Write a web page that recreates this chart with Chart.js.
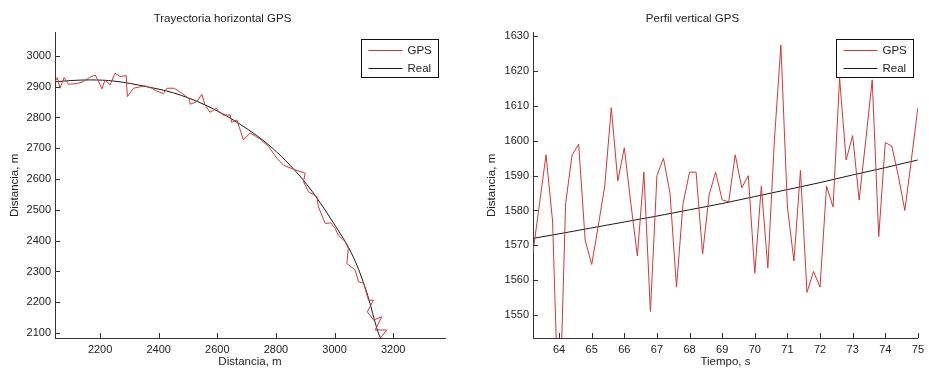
<!DOCTYPE html>
<html><head><meta charset="utf-8">
<script src="https://cdn.jsdelivr.net/npm/chart.js@4/dist/chart.umd.min.js"></script>
<style>
html,body{margin:0;padding:0;background:#fff;}
#wrap{position:relative;width:929px;height:369px;overflow:hidden;background:#fff;}
canvas{position:absolute;top:0;}
</style></head><body>
<div id="wrap">
<canvas id="h" width="465" height="369" style="left:0"></canvas>
<canvas id="v" width="464" height="369" style="left:465px"></canvas>
</div>
<script>
// ---------- Horizontal trajectory ----------
const hTitle = 'Trayectoria horizontal GPS';
const hXLabel = 'Distancia, m';
const hYLabel = 'Distancia, m';
const hGpsX = [2046,2054,2063,2077,2092,2120,2143,2163,2183,2194,2206,2217,2234,2251,2268,2289,2293,2314,2334,2354,2376,2393,2416,2428,2453,2479,2505,2507,2530,2547,2558,2575,2598,2604,2621,2644,2649,2667,2689,2712,2746,2774,2803,2826,2860,2900,2894,2911,2940,2945,2968,2987,3002,3013,3036,3047,3042,3070,3082,3099,3116,3133,3112,3133,3161,3139,3178,3156];
const hGpsY = [2916.5,2929.5,2895,2929.5,2908,2910,2916.5,2929.5,2938,2919,2893,2922,2906,2944,2933,2936,2868,2895,2899,2902.5,2895,2886,2877.5,2895,2895,2879,2860,2843,2851.5,2875.5,2841,2817,2830,2819,2808,2808,2784.5,2792,2727,2750,2730,2707,2668,2645,2632,2619,2592,2559,2543,2510,2456,2458,2440,2418,2397,2375,2326,2305,2267,2262,2207,2207,2169,2142,2153,2110,2110,2083];
const hRealX = [2046,2100,2166,2250,2359,2450,2558,2678,2791,2905,2996,3065,3110,3150,3157];
const hRealY = [2916,2920,2922,2918,2900,2880,2841,2778,2698,2583,2458,2345,2232,2099,2084];
const hXTicks = [2200,2400,2600,2800,3000,3200];
const hYTicks = [2100,2200,2300,2400,2500,2600,2700,2800,2900,3000];

// ---------- Vertical profile ----------
const vTitle = 'Perfil vertical GPS';
const vXLabel = 'Tiempo, s';
const vYLabel = 'Distancia, m';
const vTime = [63.2,63.4,63.6,63.8,64.0,64.2,64.4,64.6,64.8,65.0,65.2,65.4,65.6,65.8,66.0,66.2,66.4,66.6,66.8,67.0,67.2,67.4,67.6,67.8,68.0,68.2,68.4,68.6,68.8,69.0,69.2,69.4,69.6,69.8,70.0,70.2,70.4,70.6,70.8,71.0,71.2,71.4,71.6,71.8,72.0,72.2,72.4,72.6,72.8,73.0,73.2,73.4,73.6,73.8,74.0,74.2,74.4,74.6,74.8,75.0];
const vGps = [1568,1582,1596,1577,1516,1582,1596,1599,1571.5,1564.5,1575.5,1587,1609.5,1588.5,1598,1582,1567,1591,1551,1590,1595,1585,1558,1582,1591,1591,1567.5,1584.5,1591,1583,1582.5,1596,1586.5,1590,1562,1587,1563.5,1600,1627.5,1581,1565.5,1591.5,1556.5,1562.5,1558,1587,1581,1618,1594.5,1601.5,1583,1600,1617.5,1572.5,1599.5,1598.5,1590,1580,1594.5,1609.5];
const vRealTime = [63.2,64,65,66,67,68,69,70,71,72,73,74,75];
const vRealAlt = [1572,1573.3,1575,1576.7,1578.4,1580.2,1582,1584,1586,1588,1590.2,1592.3,1594.5];
const vXTicks = [64,65,66,67,68,69,70,71,72,73,74,75];
const vYTicks = [1550,1560,1570,1580,1590,1600,1610,1620,1630];

const seriesNames = ['GPS','Real'];
const FONT = '"Liberation Sans", Arial, Helvetica, sans-serif';
const TXT = '#222';
const AXIS = '#333';
const GPS_C = '#cc3a3a';
const REAL_C = '#1a1a1a';

const zip = (a, b) => a.map((x, i) => ({x, y: b[i]}));

const inwardTicks = {
  id: 'inwardTicks',
  afterDraw(chart) {
    const {ctx, chartArea: ca, scales: {x, y}} = chart;
    ctx.save();
    ctx.strokeStyle = AXIS; ctx.lineWidth = 1;
    x.ticks.forEach(t => {
      const p = Math.round(x.getPixelForValue(t.value)) + 0.5;
      ctx.beginPath(); ctx.moveTo(p, ca.bottom); ctx.lineTo(p, ca.bottom - 5); ctx.stroke();
    });
    y.ticks.forEach(t => {
      const p = Math.round(y.getPixelForValue(t.value)) + 0.5;
      ctx.beginPath(); ctx.moveTo(ca.left, p); ctx.lineTo(ca.left + 5, p); ctx.stroke();
    });
    ctx.restore();
  }
};

const boxLegend = {
  id: 'boxLegend',
  afterDraw(chart, args, opts) {
    const {ctx, chartArea: ca} = chart;
    const w = opts.width, h = opts.height;
    const left = Math.round(ca.right - opts.right - w) + 0.5;
    const top = Math.round(ca.top + opts.top) + 0.5;
    ctx.save();
    ctx.fillStyle = '#fff'; ctx.fillRect(left, top, w, h);
    ctx.strokeStyle = '#111'; ctx.lineWidth = 1; ctx.strokeRect(left, top, w, h);
    chart.data.datasets.forEach((ds, i) => {
      const yy = Math.round(top + 10 + i * 18) + 0.5;
      ctx.strokeStyle = ds.borderColor; ctx.lineWidth = 1;
      ctx.beginPath(); ctx.moveTo(left + 7, yy); ctx.lineTo(left + 41, yy); ctx.stroke();
      ctx.fillStyle = TXT; ctx.font = '11.5px ' + FONT;
      ctx.textBaseline = 'middle'; ctx.textAlign = 'left';
      ctx.fillText(ds.label, left + 46, yy);
    });
    ctx.restore();
  }
};

function makeChart(id, cfg) {
  return new Chart(document.getElementById(id), {
    type: 'scatter',
    data: {
      datasets: [
        {label: seriesNames[0], data: cfg.gps, showLine: true, borderColor: GPS_C, borderWidth: 1, pointRadius: 0, tension: 0, fill: false},
        {label: seriesNames[1], data: cfg.real, showLine: true, borderColor: REAL_C, borderWidth: 1, pointRadius: 0, cubicInterpolationMode: 'monotone', fill: false}
      ]
    },
    options: {
      responsive: false,
      animation: false,
      events: [],
      layout: {padding: {left: 0, right: cfg.padRight, top: 0, bottom: 0}},
      plugins: {
        legend: {display: false},
        tooltip: {enabled: false},
        title: {display: true, text: cfg.title, color: TXT, font: {family: FONT, size: 11.5, weight: 'normal'}, padding: {top: 12, bottom: 7}},
        boxLegend: {width: 77, height: 38, right: cfg.legRight, top: 6}
      },
      scales: {
        x: {
          type: 'linear', min: cfg.xMin, max: cfg.xMax,
          grid: {display: false, drawTicks: false, tickLength: 0},
          border: {display: true, color: AXIS, width: 1},
          ticks: {color: TXT, font: {family: FONT, size: 11}, padding: 5, autoSkip: false, maxRotation: 0, includeBounds: false, callback: v => String(v)},
          afterBuildTicks: s => { s.ticks = cfg.xTicks.map(v => ({value: v})); },
          afterFit: s => { s.height = 31; },
          title: {display: true, text: cfg.xLabel, color: TXT, font: {family: FONT, size: 11.5}, padding: {top: 0, bottom: 0}}
        },
        y: {
          type: 'linear', min: cfg.yMin, max: cfg.yMax,
          grid: {display: false, drawTicks: false, tickLength: 0},
          border: {display: true, color: AXIS, width: 1},
          ticks: {color: TXT, font: {family: FONT, size: 11}, padding: 4, autoSkip: false, includeBounds: false, callback: v => String(v)},
          afterBuildTicks: s => { s.ticks = cfg.yTicks.map(v => ({value: v})); },
          afterFit: s => { s.width = cfg.yWidth; },
          title: {display: true, text: cfg.yLabel, color: TXT, font: {family: FONT, size: 11.5}, padding: {top: cfg.yTitlePad, bottom: 0}}
        }
      }
    },
    plugins: [inwardTicks, boxLegend]
  });
}

makeChart('h', {
  title: hTitle, xLabel: hXLabel, yLabel: hYLabel,
  gps: zip(hGpsX, hGpsY), real: zip(hRealX, hRealY),
  xMin: 2046, xMax: 3377, yMin: 2084, yMax: 3075,
  xTicks: hXTicks, yTicks: hYTicks,
  yWidth: 55, padRight: 20, yTitlePad: 8, legRight: 7
});

makeChart('v', {
  title: vTitle, xLabel: vXLabel, yLabel: vYLabel,
  gps: zip(vTime, vGps), real: zip(vRealTime, vRealAlt),
  xMin: 63.2, xMax: 75, yMin: 1543.4, yMax: 1631,
  xTicks: vXTicks, yTicks: vYTicks,
  yWidth: 68, padRight: 9, yTitlePad: 20, legRight: 5
});
</script>
</body></html>
